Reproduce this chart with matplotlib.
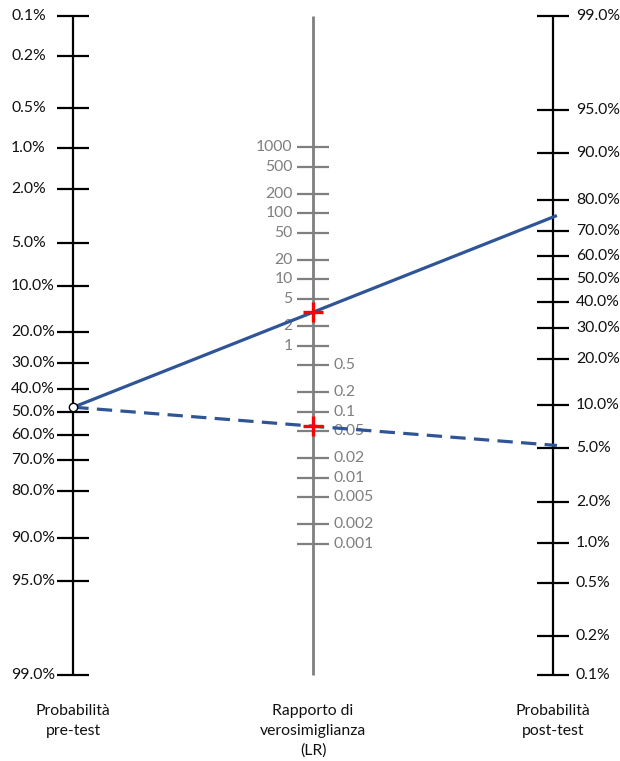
import numpy as np
import matplotlib
matplotlib.use("Agg")
import matplotlib.pyplot as plt
from matplotlib import transforms

# ---- nomogram data -------------------------------------------------------
prob_ticks = [0.001, 0.002, 0.005, 0.01, 0.02, 0.05, 0.1, 0.2, 0.3, 0.4,
              0.5, 0.6, 0.7, 0.8, 0.9, 0.95, 0.99]
prob_labels = ["0.1%", "0.2%", "0.5%", "1.0%", "2.0%", "5.0%", "10.0%",
               "20.0%", "30.0%", "40.0%", "50.0%", "60.0%", "70.0%",
               "80.0%", "90.0%", "95.0%", "99.0%"]
lr_high = [1000, 500, 200, 100, 50, 20, 10, 5, 2, 1]
lr_high_labels = ["1000", "500", "200", "100", "50", "20", "10", "5", "2", "1"]
lr_low = [0.5, 0.2, 0.1, 0.05, 0.02, 0.01, 0.005, 0.002, 0.001]
lr_low_labels = ["0.5", "0.2", "0.1", "0.05", "0.02", "0.01", "0.005",
                 "0.002", "0.001"]

pre_test = 0.48        # pre-test probability
lr_positive = 3.2      # likelihood ratio of a positive result
lr_negative = 0.06     # likelihood ratio of a negative result

column_titles = ["Probabilità\npre-test",
                 "Rapporto di\nverosimiglianza\n(LR)",
                 "Probabilità\npost-test"]

# ---- layout ------------------------------------------------------------------
W, H = 620, 761
X_LEFT_PX = 73.3          # pixel column of the pre-test scale
COL_SPACING_PX = 239.8    # distance between the three scales
Y_ZERO_PX = 411.8         # pixel row of logit = 0 on the pre-test scale
PX_PER_LOGIT = 57.35
TICK_HALF_PX = 16
LINE_OVERSHOOT_PX = 4     # result lines run slightly past the post-test scale

BLUE = "#2F5597"
GREY = "#7F7F7F"
TEXT = "#111111"
FONT = ["Lato", "DejaVu Sans"]
FS = 11.3

plt.rcParams["font.family"] = FONT


def logit(p):
    p = np.asarray(p, dtype=float)
    return np.log(p / (1 - p))


def expit(z):
    return 1 / (1 + np.exp(-np.asarray(z, dtype=float)))


P_MIN, P_MAX = min(prob_ticks), max(prob_ticks)
SHIFT = logit(P_MIN) + logit(P_MAX)   # post-test scale is flipped end to end


# every column is expressed in the probability units of the pre-test scale
def left_pos(p):
    return np.asarray(p, dtype=float)


def right_pos(p):
    return expit(SHIFT - logit(p))


def mid_pos(lr):
    return expit((SHIFT - np.log(np.asarray(lr, dtype=float))) / 2)


fig = plt.figure(figsize=(W / 100, H / 100), dpi=100)
ax = fig.add_axes([0, 0, 1, 1])
ax.set_yscale("logit")
unit = COL_SPACING_PX
ax.set_xlim(-X_LEFT_PX / unit, (W - X_LEFT_PX) / unit)
ax.set_ylim(expit((H - Y_ZERO_PX) / PX_PER_LOGIT),
            expit(-Y_ZERO_PX / PX_PER_LOGIT))
ax.axis("off")

tick_half = TICK_HALF_PX / unit
X_PRE, X_LR, X_POST = 0.0, 1.0, 2.0


def shifted(dx_px):
    return transforms.offset_copy(ax.transData, fig=fig, x=dx_px, y=0,
                                  units="dots")


# pre-test scale
ax.vlines(X_PRE, left_pos(P_MIN), left_pos(P_MAX), color="black", lw=1.6,
          zorder=2)
ax.hlines(left_pos(prob_ticks), X_PRE - tick_half, X_PRE + tick_half,
          color="black", lw=1.6, zorder=2)
for p, lab in zip(prob_ticks, prob_labels):
    ax.text(X_PRE, left_pos(p), lab, transform=shifted(11 - X_LEFT_PX),
            ha="left", va="center", fontsize=FS, color=TEXT)

# post-test scale
ax.vlines(X_POST, right_pos(P_MIN), right_pos(P_MAX), color="black", lw=1.6,
          zorder=2)
ax.hlines(right_pos(prob_ticks), X_POST - tick_half, X_POST + tick_half,
          color="black", lw=1.6, zorder=2)
for p, lab in zip(prob_ticks, prob_labels):
    ax.text(X_POST, right_pos(p), lab, transform=shifted(23),
            ha="left", va="center", fontsize=FS, color=TEXT)

# likelihood-ratio scale
ax.vlines(X_LR, left_pos(P_MIN), left_pos(P_MAX), color=GREY, lw=2.0,
          zorder=2)
ax.hlines(mid_pos(lr_high + lr_low), X_LR - tick_half, X_LR + tick_half,
          color=GREY, lw=1.6, zorder=2)
for v, lab in zip(lr_high, lr_high_labels):
    ax.text(X_LR, mid_pos(v), lab, transform=shifted(-20.5),
            ha="right", va="center", fontsize=FS, color=GREY)
for v, lab in zip(lr_low, lr_low_labels):
    ax.text(X_LR, mid_pos(v), lab, transform=shifted(20.5),
            ha="left", va="center", fontsize=FS, color=GREY)

# result lines: positive (solid) and negative (dashed) test
pre_odds = pre_test / (1 - pre_test)
post_pos = pre_odds * lr_positive / (1 + pre_odds * lr_positive)
post_neg = pre_odds * lr_negative / (1 + pre_odds * lr_negative)


def result_line(post):
    """Straight line (in scale units) from the pre-test point through the
    post-test point, extended a few pixels beyond the post-test scale."""
    u0 = logit(left_pos(pre_test))
    u1 = logit(right_pos(post))
    x_end = X_POST + LINE_OVERSHOOT_PX / unit
    u_end = u0 + (u1 - u0) * (x_end - X_PRE) / (X_POST - X_PRE)
    return [X_PRE, x_end], [left_pos(pre_test), expit(u_end)]


xs, ys = result_line(post_pos)
ax.plot(xs, ys, color=BLUE, lw=2.3, solid_capstyle="butt", zorder=3)
xs, ys = result_line(post_neg)
ax.plot(xs, ys, color=BLUE, lw=2.3, dashes=(4.8, 2.6), dash_capstyle="butt",
        zorder=3)

ax.plot([X_LR, X_LR], [mid_pos(lr_positive), mid_pos(lr_negative)],
        linestyle="none", marker="+", markersize=15, markeredgewidth=2.4,
        color="#FF0000", zorder=4)
ax.plot([X_PRE], [left_pos(pre_test)], linestyle="none", marker="o",
        markersize=6, markerfacecolor="white", markeredgecolor="black",
        markeredgewidth=1.0, zorder=5)

# column titles under the scales
title_tr = transforms.blended_transform_factory(ax.transData, ax.transAxes)
for x, title in zip([X_PRE, X_LR, X_POST], column_titles):
    ax.text(x, 1 - 704 / H, title, transform=title_tr, ha="center",
            va="top", fontsize=FS, color=TEXT, linespacing=1.5)

fig.savefig("out.png", dpi=100)
